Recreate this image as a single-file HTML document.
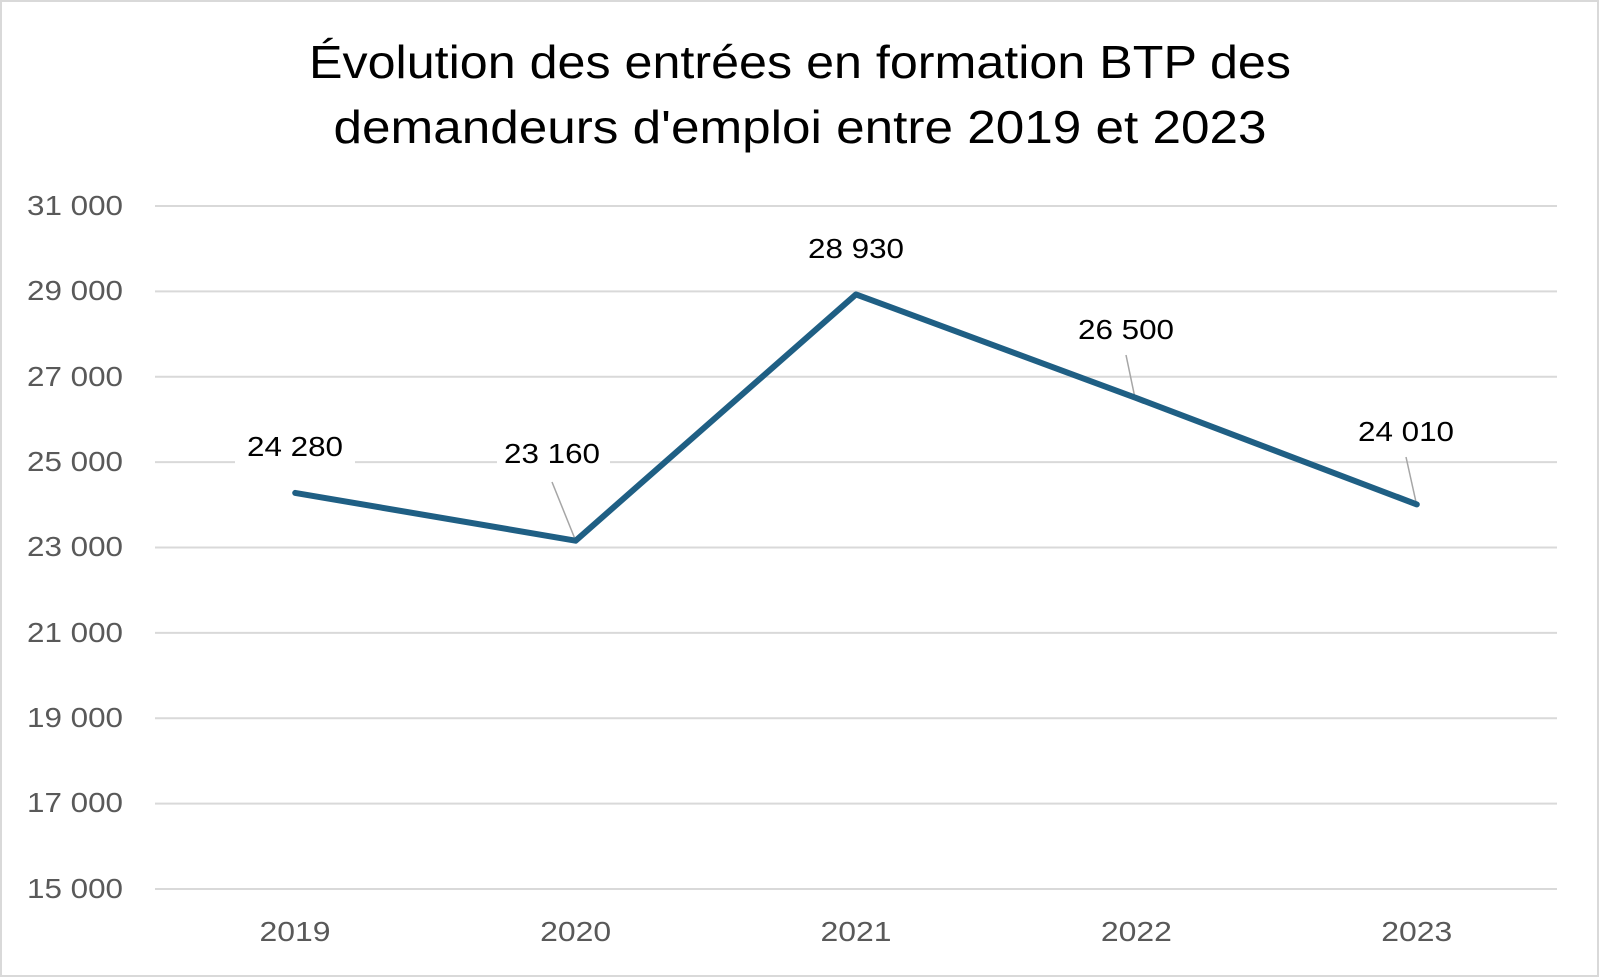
<!DOCTYPE html>
<html><head><meta charset="utf-8"><style>
html,body{margin:0;padding:0;background:#fff}
svg{display:block}
text{font-family:"Liberation Sans",Arial,sans-serif}
</style></head><body>
<svg width="1600" height="978" viewBox="0 0 1600 978" xmlns="http://www.w3.org/2000/svg">
<rect x="1" y="1" width="1597" height="975" fill="#fff" stroke="#d9d9d9" stroke-width="2"/>
<text x="800" y="78" font-size="46" text-anchor="middle" fill="#000" textLength="982" lengthAdjust="spacingAndGlyphs">Évolution des entrées en formation BTP des</text>
<text x="800" y="143" font-size="46" text-anchor="middle" fill="#000" textLength="933" lengthAdjust="spacingAndGlyphs">demandeurs d'emploi entre 2019 et 2023</text>
<g stroke="#d9d9d9" stroke-width="2">
<line x1="155" x2="1557" y1="206" y2="206"/>
<line x1="155" x2="1557" y1="291.4" y2="291.4"/>
<line x1="155" x2="1557" y1="376.8" y2="376.8"/>
<line x1="155" x2="1557" y1="462.1" y2="462.1"/>
<line x1="155" x2="1557" y1="547.5" y2="547.5"/>
<line x1="155" x2="1557" y1="632.9" y2="632.9"/>
<line x1="155" x2="1557" y1="718.3" y2="718.3"/>
<line x1="155" x2="1557" y1="803.6" y2="803.6"/>
<line x1="155" x2="1557" y1="889" y2="889"/>
</g>
<g font-size="28" fill="#595959" text-anchor="end">
<text x="123" y="215" textLength="96" lengthAdjust="spacingAndGlyphs">31 000</text>
<text x="123" y="300" textLength="96" lengthAdjust="spacingAndGlyphs">29 000</text>
<text x="123" y="386" textLength="96" lengthAdjust="spacingAndGlyphs">27 000</text>
<text x="123" y="471" textLength="96" lengthAdjust="spacingAndGlyphs">25 000</text>
<text x="123" y="556" textLength="96" lengthAdjust="spacingAndGlyphs">23 000</text>
<text x="123" y="642" textLength="96" lengthAdjust="spacingAndGlyphs">21 000</text>
<text x="123" y="727" textLength="96" lengthAdjust="spacingAndGlyphs">19 000</text>
<text x="123" y="812" textLength="96" lengthAdjust="spacingAndGlyphs">17 000</text>
<text x="123" y="898" textLength="96" lengthAdjust="spacingAndGlyphs">15 000</text>
</g>
<g font-size="28" fill="#595959" text-anchor="middle">
<text x="295" y="941" textLength="71" lengthAdjust="spacingAndGlyphs">2019</text>
<text x="575.6" y="941" textLength="71" lengthAdjust="spacingAndGlyphs">2020</text>
<text x="856" y="941" textLength="71" lengthAdjust="spacingAndGlyphs">2021</text>
<text x="1136.4" y="941" textLength="71" lengthAdjust="spacingAndGlyphs">2022</text>
<text x="1416.8" y="941" textLength="71" lengthAdjust="spacingAndGlyphs">2023</text>
</g>
<rect x="235" y="430" width="120" height="40" fill="#fff"/>
<rect x="497" y="437" width="113" height="40" fill="#fff"/>
<g stroke="#a6a6a6" stroke-width="1.5">
<line x1="552" y1="482" x2="575" y2="539"/>
<line x1="1126" y1="355" x2="1135" y2="398"/>
<line x1="1406" y1="457" x2="1416" y2="502"/>
</g>
<polyline points="295.2,492.9 575.6,540.7 856,294.4 1136.4,398.1 1416.8,504.4" fill="none" stroke="#1f5f84" stroke-width="6" stroke-linejoin="round" stroke-linecap="round"/>
<g font-size="28" fill="#000" text-anchor="middle">
<text x="295" y="456" textLength="96" lengthAdjust="spacingAndGlyphs">24 280</text>
<text x="552" y="463" textLength="96" lengthAdjust="spacingAndGlyphs">23 160</text>
<text x="856" y="258" textLength="96" lengthAdjust="spacingAndGlyphs">28 930</text>
<text x="1126" y="339" textLength="96" lengthAdjust="spacingAndGlyphs">26 500</text>
<text x="1406" y="441" textLength="96" lengthAdjust="spacingAndGlyphs">24 010</text>
</g>
</svg>
</body></html>
